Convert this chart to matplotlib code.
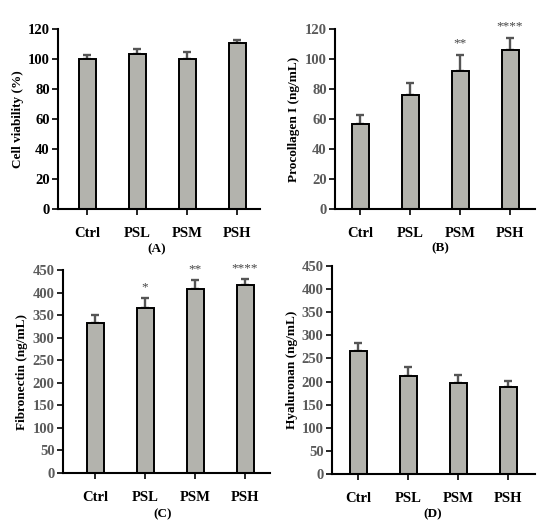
import matplotlib
matplotlib.use("Agg")
import matplotlib.pyplot as plt

categories = ["Ctrl", "PSL", "PSM", "PSH"]

viability = [100.2, 103.5, 99.8, 110.4]
viability_err = [2.5, 3.1, 4.7, 2.1]

procollagen = [56.5, 76.0, 92.3, 105.7]
procollagen_err = [6.1, 8.0, 10.5, 8.5]
procollagen_sig = ["", "", "**", "****"]

fibronectin = [333, 366, 408, 417]
fibronectin_err = [17, 21, 19, 12]
fibronectin_sig = ["", "*", "**", "****"]

hyaluronan = [267, 211, 196, 189]
hyaluronan_err = [16, 21, 19, 12]

plt.rcParams['font.family'] = ['Liberation Serif', 'DejaVu Serif']

fig = plt.figure(figsize=(5.5, 5.28), dpi=100)

BAR = "#b3b3ad"
ERR = "#555555"
TICKC_GRAY = "#5a5a5a"

panels = [
    dict(rect=[58/550, 1-209/528, 202/550, 180/528], vals=viability, err=viability_err,
         sig=None, ylim=(0, 120), yticks=range(0, 121, 20), ylabel="Cell viability (%)",
         xlim=(-0.58, 3.46), tlabel="(A)", tpos=(157/550, 1-249/528), tickcol="black",
         sigoff=3),
    dict(rect=[335/550, 1-209/528, 200/550, 180/528], vals=procollagen, err=procollagen_err,
         sig=procollagen_sig, ylim=(0, 120), yticks=range(0, 121, 20), ylabel="Procollagen I (ng/mL)",
         xlim=(-0.5, 3.5), tlabel="(B)", tpos=(440/550, 1-248/528), tickcol=TICKC_GRAY,
         sigoff=3.5),
    dict(rect=[63/550, 1-473/528, 207/550, 203/528], vals=fibronectin, err=fibronectin_err,
         sig=fibronectin_sig, ylim=(0, 450), yticks=range(0, 451, 50), ylabel="Fibronectin (ng/mL)",
         xlim=(-0.64, 3.5), tlabel="(C)", tpos=(163/550, 1-514/528), tickcol=TICKC_GRAY,
         sigoff=12),
    dict(rect=[332/550, 1-474/528, 203/550, 208/528], vals=hyaluronan, err=hyaluronan_err,
         sig=None, ylim=(0, 450), yticks=range(0, 451, 50), ylabel="Hyaluronan (ng/mL)",
         xlim=(-0.52, 3.54), tlabel="(D)", tpos=(433/550, 1-514/528), tickcol=TICKC_GRAY,
         sigoff=12),
]

for p in panels:
    ax = fig.add_axes(p["rect"])
    x = list(range(len(categories)))
    ax.bar(x, p["vals"], width=0.34, color=BAR, edgecolor="black", linewidth=1.4, zorder=2)
    ax.errorbar(x, p["vals"], yerr=[[0]*4, p["err"]], fmt="none", ecolor=ERR,
                elinewidth=1.7, capsize=3, capthick=1.7, zorder=1)
    if p["sig"]:
        for xi, v, e, s in zip(x, p["vals"], p["err"], p["sig"]):
            if s:
                ax.text(xi, v + e + p["sigoff"], s, ha="center", va="bottom",
                        fontsize=9.5, color="#444444", clip_on=False)
    ax.set_xlim(*p["xlim"])
    ax.set_ylim(*p["ylim"])
    ax.set_yticks(list(p["yticks"]))
    ax.set_xticks(x)
    ax.set_xticklabels(categories, fontsize=10.5, fontweight="bold")
    for lab in ax.get_yticklabels():
        lab.set_fontweight("bold")
        lab.set_fontsize(10.5)
        lab.set_color(p["tickcol"])
    ax.set_ylabel(p["ylabel"], fontsize=9.5, fontweight="bold", labelpad=3)
    for s in ["top", "right"]:
        ax.spines[s].set_visible(False)
    for s in ["left", "bottom"]:
        ax.spines[s].set_linewidth(1.5)
        ax.spines[s].set_color("black")
    ax.tick_params(axis="both", direction="out", width=1.2, length=4, color="black")
    ax.tick_params(axis="x", pad=9)
    ax.tick_params(axis="y", pad=2)
    ax.set_facecolor("white")
    fig.text(p["tpos"][0], p["tpos"][1], p["tlabel"], ha="center", va="center",
             fontsize=9.5, fontweight="bold")

fig.savefig("out.png", dpi=100, facecolor="white")
